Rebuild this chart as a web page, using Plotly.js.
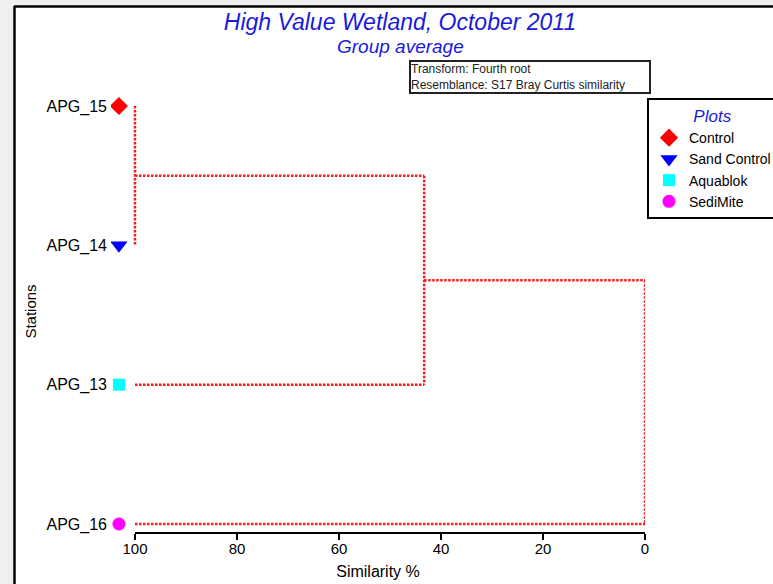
<!DOCTYPE html>
<html>
<head>
<meta charset="utf-8">
<script src="https://cdn.plot.ly/plotly-3.0.1.min.js"></script>
<style>html,body{margin:0;padding:0;background:#fff;}#chart{width:773px;height:584px;}</style>
</head>
<body>
<div id="chart"></div>
<script>
// ---- data ----
const stations = ['APG_15', 'APG_14', 'APG_13', 'APG_16'];
const plotGroups = ['Control', 'Sand Control', 'Aquablok', 'SediMite'];
// dendrogram merges (group average, similarity %)
const mergeA = ['APG_15', 'M1', 'M2'];
const mergeB = ['APG_14', 'APG_13', 'APG_16'];
const mergeSim = [100, 43.3, 0];
const xTickVals = [100, 80, 60, 40, 20, 0];
const titleText = 'High Value Wetland, October 2011';
const subtitleText = 'Group average';
const infoLines = ['Transform: Fourth root', 'Resemblance: S17 Bray Curtis similarity'];

// ---- styles ----
const groupSymbols = ['diamond', 'triangle-down', 'square', 'circle'];
const groupColors = ['#ff0000', '#0000ff', '#00ffff', '#ff00ff'];
const groupSizes = [14, 15, 12, 13];
const markerOffset = 3.15; // similarity units left of 100
const FONT = 'Liberation Sans, Arial, sans-serif';

// node positions
const nodes = {};
stations.forEach((s, i) => { nodes[s] = {y: stations.length - 1 - i, h: 100}; });
const segX = [], segY = [];
mergeSim.forEach((sim, k) => {
  const a = nodes[mergeA[k]], b = nodes[mergeB[k]];
  segX.push(a.h, sim, null, b.h, sim, null, sim, sim, null);
  segY.push(a.y, a.y, null, b.y, b.y, null, a.y, b.y, null);
  nodes['M' + (k + 1)] = {y: (a.y + b.y) / 2, h: sim};
});

const traces = [{
  type: 'scatter', mode: 'lines', x: segX, y: segY, showlegend: false, hoverinfo: 'skip',
  cliponaxis: false,
  line: {color: '#ff1a1a', width: 2.5, dash: '2.5px,1.5px'}, connectgaps: false
}];
stations.forEach((s, i) => {
  traces.push({
    type: 'scatter', mode: 'markers', name: plotGroups[i],
    x: [xTickVals[0] + markerOffset], y: [nodes[s].y],
    marker: {symbol: groupSymbols[i], color: groupColors[i], size: groupSizes[i], line: {width: 0}}
  });
});

// geometry: x=100 at px 135, x=0 at px 645
const X100 = 135, R = 645, T = 90, B = 533, L = 111;
const pxPerUnit = (R - X100) / 100;
const xLeft = 100 + (X100 - L) / pxPerUnit;
const px = p => (p - L) / (R - L);
const py = p => (B - p) / (B - T);

const layout = {
  width: 773, height: 584,
  margin: {l: L, r: 773 - R, t: T, b: 584 - B, autoexpand: false},
  paper_bgcolor: '#efefef', plot_bgcolor: '#ffffff',
  font: {family: FONT, color: '#000'},
  showlegend: true,
  title: {
    text: titleText, xref: 'container', yref: 'container', x: 400 / 773, y: 1 - 22 / 584,
    xanchor: 'center', yanchor: 'middle',
    font: {family: FONT, size: 23, color: '#1a1adc', style: 'italic'}
  },
  xaxis: {
    range: [xLeft, 0], showgrid: false, zeroline: false, showline: false,
    ticks: 'outside', ticklen: 6, tickwidth: 2, tickcolor: '#000',
    tickvals: xTickVals, ticktext: xTickVals.map(String), ticklabelstandoff: -4,
    tickfont: {family: FONT, size: 15, color: '#000'},
    title: {text: 'Similarity %', font: {family: FONT, size: 16, color: '#000'}, standoff: 9}
  },
  yaxis: {
    range: [-9 / 139.33, 3 + 16 / 139.33], showgrid: false, zeroline: false, showline: false,
    ticks: '', tickvals: stations.map(s => nodes[s].y), ticktext: stations,
    ticklabelstandoff: 3,
    tickfont: {family: FONT, size: 16, color: '#000'},
    title: {text: 'Stations', font: {family: FONT, size: 15, color: '#000'}, standoff: 6}
  },
  legend: {
    xref: 'container', yref: 'container', x: 647 / 773, y: 1 - 98 / 584, xanchor: 'left', yanchor: 'top',
    bgcolor: '#ffffff', bordercolor: '#000', borderwidth: 2,
    font: {family: FONT, size: 14, color: '#000'},
    title: {text: 'Plots', side: 'top center', font: {family: FONT, size: 17, color: '#1a1adc', style: 'italic'}},
    itemwidth: 30, tracegroupgap: 0
  },
  annotations: [
    {text: subtitleText, xref: 'paper', yref: 'paper', x: px(400), y: py(47), showarrow: false,
     xanchor: 'center', yanchor: 'middle', font: {family: FONT, size: 19, color: '#1a1adc', style: 'italic'}},
    {text: infoLines.join('<br>'), xref: 'paper', yref: 'paper', x: px(409), y: py(60), showarrow: false,
     xanchor: 'left', yanchor: 'top', align: 'left', bordercolor: '#222', borderwidth: 2, borderpad: 0,
     bgcolor: '#fff', width: 238, font: {family: FONT, size: 12, color: '#222'}}
  ],
  shapes: [
    {type: 'rect', layer: 'below', xref: 'paper', yref: 'paper', x0: px(14), x1: px(780), y0: py(6), y1: py(590),
     fillcolor: '#ffffff', line: {width: 0}},
    {type: 'line', xref: 'x', yref: 'paper', x0: xTickVals[0], x1: xTickVals[xTickVals.length - 1], y0: 0, y1: 0,
     line: {color: '#000', width: 2}},
    {type: 'line', xref: 'paper', yref: 'paper', x0: px(14.5), x1: px(14.5), y0: py(6), y1: py(590),
     line: {color: '#000', width: 2.5}},
    {type: 'line', xref: 'paper', yref: 'paper', x0: px(14), x1: px(780), y0: py(6.5), y1: py(6.5),
     line: {color: '#000', width: 2.5}}
  ]
};

Plotly.newPlot('chart', traces, layout, {staticPlot: true, displayModeBar: false});
</script>
</body>
</html>
